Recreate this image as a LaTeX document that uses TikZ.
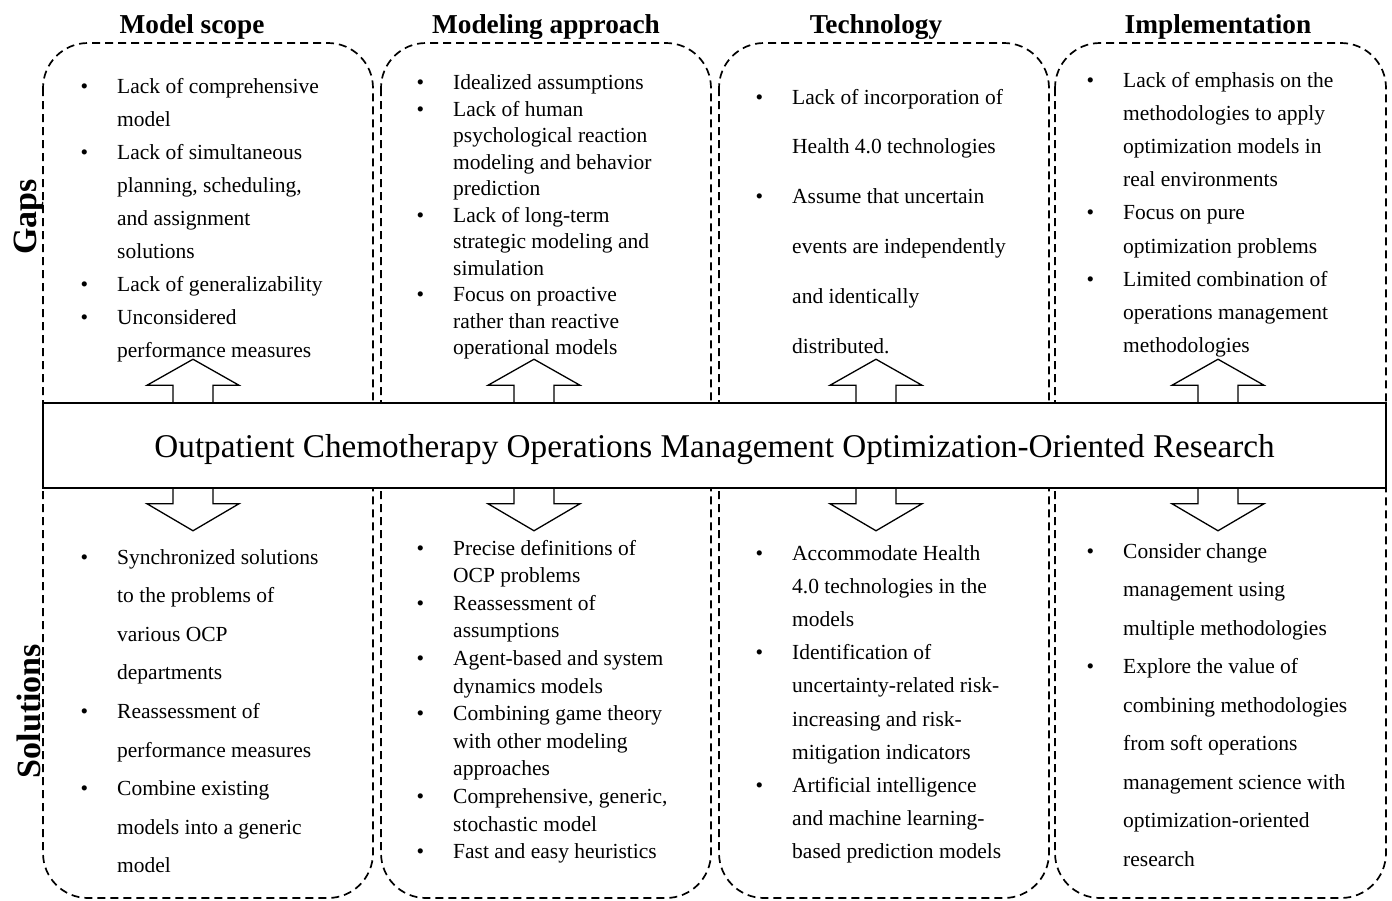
\documentclass[tikz,border=0pt]{standalone}
\usepackage{fontspec}
\setmainfont{Liberation Serif}
\usetikzlibrary{calc}
\newcommand{\B}{\llap{\textbullet\hspace{29pt}}}
\newcommand{\textlines}[5]{%
  \foreach \linetext [count=\i from 0] in {#5} {%
    \node[txt] (#1-\i) at (#2, {#3+\i*#4}) {\linetext};
  }}
\begin{document}
\begin{tikzpicture}[x=1pt, y=-1pt,
  txt/.style={anchor=base west, inner sep=0pt, font=\fontsize{21.5}{25}\selectfont},
  head/.style={anchor=base, inner sep=0pt, font=\bfseries\fontsize{27.3}{30}\selectfont},
  side/.style={anchor=base, inner sep=0pt, rotate=90, font=\bfseries\fontsize{34}{36}\selectfont},
  colbox/.style={draw, line width=1.7pt, dash pattern=on 8pt off 5pt, rounded corners=45pt},
  mainbox/.style={draw, line width=1.5pt, fill=white, minimum width=1343pt, minimum height=85pt, inner sep=0pt, text height=23pt, text depth=0pt, font=\fontsize{33.2}{36}\selectfont},
  blockarrow/.style={draw, line width=1.3pt, line join=miter}
]
\fill[white] (0,0) rectangle (1392,900);
\useasboundingbox (0,0) rectangle (1392,900);

% column frames
\draw[colbox] (43,43) rectangle (373,898);
\draw[colbox] (381,43) rectangle (711,898);
\draw[colbox] (719,43) rectangle (1049,898);
\draw[colbox] (1055,43) rectangle (1386,898);

% headings
\node[head] (h1) at (192,33) {Model scope};
\node[head] (h2) at (546,33) {Modeling approach};
\node[head] (h3) at (876,33) {Technology};
\node[head] (h4) at (1218,33) {Implementation};

% side labels
\node[side] (gaps) at (36,217) {Gaps};
\node[side] (sols) at (40,711) {Solutions};

% central box
\node[mainbox] (main) at (714.5,445.5) {Outpatient Chemotherapy Operations Management Optimization-Oriented Research};

% arrow positions
\coordinate (c1) at (193,0);
\coordinate (c2) at (534,0);
\coordinate (c3) at (876,0);
\coordinate (c4) at (1218,0);
\foreach \c in {c1,c2,c3,c4} {
  \draw[blockarrow] (main.north -| \c) ++(-20,0) -- ++(0,-17) -- ++(-26,0) -- ++(46,-26) -- ++(46,26) -- ++(-26,0) -- ++(0,17);
  \draw[blockarrow] (main.south -| \c) ++(-20,0) -- ++(0,15) -- ++(-26,0) -- ++(46,27) -- ++(46,-27) -- ++(-26,0) -- ++(0,-15);
}

% gaps
\textlines{g1}{117}{93.5}{33}{
  {\B Lack of comprehensive},
  {model},
  {\B Lack of simultaneous},
  {planning, scheduling,},
  {and assignment},
  {solutions},
  {\B Lack of generalizability},
  {\B Unconsidered},
  {performance measures}}
\textlines{g2}{453}{89.5}{26.5}{
  {\B Idealized assumptions},
  {\B Lack of human},
  {psychological reaction},
  {modeling and behavior},
  {prediction},
  {\B Lack of long-term},
  {strategic modeling and},
  {simulation},
  {\B Focus on proactive},
  {rather than reactive},
  {operational models}}
\textlines{g3}{792}{104}{49.8}{
  {\B Lack of incorporation of},
  {Health 4.0 technologies},
  {\B Assume that uncertain},
  {events are independently},
  {and identically},
  {distributed.}}
\textlines{g4}{1123}{87.5}{33.1}{
  {\B Lack of emphasis on the},
  {methodologies to apply},
  {optimization models in},
  {real environments},
  {\B Focus on pure},
  {optimization problems},
  {\B Limited combination of},
  {operations management},
  {methodologies}}

% solutions
\textlines{s1}{117}{564}{38.6}{
  {\B Synchronized solutions},
  {to the problems of},
  {various OCP},
  {departments},
  {\B Reassessment of},
  {performance measures},
  {\B Combine existing},
  {models into a generic},
  {model}}
\textlines{s2}{453}{555}{27.6}{
  {\B Precise definitions of},
  {OCP problems},
  {\B Reassessment of},
  {assumptions},
  {\B Agent-based and system},
  {dynamics models},
  {\B Combining game theory},
  {with other modeling},
  {approaches},
  {\B Comprehensive, generic,},
  {stochastic model},
  {\B Fast and easy heuristics}}
\textlines{s3}{792}{560}{33.2}{
  {\B Accommodate Health},
  {4.0 technologies in the},
  {models},
  {\B Identification of},
  {uncertainty-related risk-},
  {increasing and risk-},
  {mitigation indicators},
  {\B Artificial intelligence},
  {and machine learning-},
  {based prediction models}}
\textlines{s4}{1123}{558}{38.5}{
  {\B Consider change},
  {management using},
  {multiple methodologies},
  {\B Explore the value of},
  {combining methodologies},
  {from soft operations},
  {management science with},
  {optimization-oriented},
  {research}}
\end{tikzpicture}
\end{document}
